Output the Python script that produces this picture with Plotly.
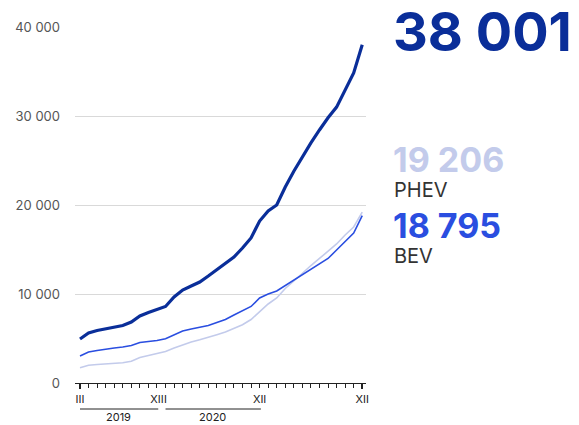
import plotly.graph_objects as go

# Cumulative registrations, monthly from March 2019 to December 2021
months = ["III", "IV", "V", "VI", "VII", "VIII", "IX", "X", "XI", "XII",
          "I", "II", "III", "IV", "V", "VI", "VII", "VIII", "IX", "X", "XI", "XII",
          "I", "II", "III", "IV", "V", "VI", "VII", "VIII", "IX", "X", "XI", "XII"]
total = [4950, 5620, 5900, 6070, 6240, 6460, 6850, 7530, 7920, 8260,
         8600, 9660, 10450, 10900, 11350, 12020, 12700, 13480, 14160, 15170, 16300, 18200,
         19330, 20000, 22020, 23800, 25420, 26970, 28430, 29800, 31000, 32840, 34840, 38001]
bev = [3030, 3480, 3650, 3820, 3930, 4040, 4210, 4550, 4660, 4780,
       4970, 5390, 5840, 6070, 6240, 6460, 6800, 7130, 7640, 8090, 8600, 9550,
       10000, 10340, 10960, 11570, 12190, 12750, 13370, 13990, 14940, 15840, 16850, 18795]
phev = [1720, 1990, 2080, 2130, 2190, 2270, 2440, 2870, 3090, 3280,
        3540, 3930, 4270, 4610, 4850, 5110, 5430, 5730, 6120, 6540, 7130, 7980,
        8880, 9550, 10620, 11460, 12360, 13200, 13990, 14830, 15620, 16630, 17530, 19206]

labeled_idx = [0, 9, 10, 21, 33]
years = [("2019", 0, 9), ("2020", 10, 21)]
y_ticks = [0, 10000, 20000, 30000, 40000]
y_tick_text = ["0", "10 000", "20 000", "30 000", "40 000"]

C_TOTAL = "#0a2e99"
C_BEV = "#2a4ee0"
C_PHEV = "#c3cbeb"
FONT = "Inter"

W, H = 579, 425
ML, MR, MT, MB = 75, 213, 27, 42
pw = W - ML - MR
ph = H - MT - MB


def px_x(p):
    return (p - ML) / pw


def px_y(p):
    return (H - MB - p) / ph


def spaced(v):
    return f"{v:,}".replace(",", " ")


x = list(range(len(months)))

fig = go.Figure()
fig.add_trace(go.Scatter(x=x, y=phev, mode="lines", line=dict(color=C_PHEV, width=1.6), hoverinfo="skip"))
fig.add_trace(go.Scatter(x=x, y=bev, mode="lines", line=dict(color=C_BEV, width=1.6), hoverinfo="skip"))
fig.add_trace(go.Scatter(x=x, y=total, mode="lines", line=dict(color=C_TOTAL, width=3.2), hoverinfo="skip"))
# heavier tick marks at both ends of the time axis
fig.add_trace(go.Scatter(x=[x[0], x[-1]], y=[None, None], xaxis="x2", showlegend=False, hoverinfo="skip"))

xr = [-0.585, len(months) - 1 + 0.44]
fig.update_layout(
    width=W, height=H,
    margin=dict(l=ML, r=MR, t=MT, b=MB),
    paper_bgcolor="white", plot_bgcolor="white",
    showlegend=False,
    font=dict(family=FONT, color="#333"),
    xaxis=dict(
        range=xr, showgrid=False, zeroline=False,
        showline=True, linecolor="#222", linewidth=1,
        ticks="outside", ticklen=4, tickwidth=1, tickcolor="#222",
        tickvals=x, tickangle=0,
        ticktext=[m if i in labeled_idx else "" for i, m in enumerate(months)],
        tickfont=dict(family=FONT, size=11, color="#222"),
        ticklabelstandoff=2,
    ),
    xaxis2=dict(
        range=xr, overlaying="x", anchor="y", showgrid=False, zeroline=False,
        ticks="outside", ticklen=5, tickwidth=2.2, tickcolor="#222",
        tickvals=[x[0], x[-1]], showticklabels=False,
    ),
    yaxis=dict(
        range=[0, 40000], showgrid=True, gridcolor="#d9d9d9", gridwidth=1,
        zeroline=False, showline=False,
        tickvals=y_ticks, ticktext=y_tick_text,
        tickfont=dict(family=FONT, size=13, color="#555"),
        ticklabelstandoff=14,
    ),
)

# year brackets under the month labels
for label, i0, i1 in years:
    fig.add_shape(type="line", xref="x", yref="paper", x0=i0, x1=i1 + 0.15,
                  y0=px_y(409), y1=px_y(409), line=dict(color="#222", width=1))
    fig.add_annotation(text=label, xref="x", yref="paper", x=(i0 + i1) / 2, y=px_y(417),
                       showarrow=False, yanchor="middle", xanchor="center", borderpad=0,
                       font=dict(family=FONT, size=11, color="#222"))

# end values on the right
fig.add_annotation(text=spaced(total[-1]), xref="paper", yref="paper",
                   x=px_x(391), y=px_y(31), xanchor="left", yanchor="middle", showarrow=False,
                   font=dict(family=FONT, size=54, color=C_TOTAL, weight=700))
fig.add_annotation(text=spaced(phev[-1]), xref="paper", yref="paper",
                   x=px_x(392), y=px_y(159), xanchor="left", yanchor="middle", showarrow=False,
                   borderpad=0,
                   font=dict(family=FONT, size=34, color=C_PHEV, weight=700))
fig.add_annotation(text="PHEV", xref="paper", yref="paper",
                   x=px_x(393), y=px_y(190), xanchor="left", yanchor="middle", showarrow=False,
                   borderpad=0,
                   font=dict(family=FONT, size=20, color="#333"))
fig.add_annotation(text=spaced(bev[-1]), xref="paper", yref="paper",
                   x=px_x(392), y=px_y(225), xanchor="left", yanchor="middle", showarrow=False,
                   borderpad=0,
                   font=dict(family=FONT, size=34, color=C_BEV, weight=700))
fig.add_annotation(text="BEV", xref="paper", yref="paper",
                   x=px_x(393), y=px_y(256), xanchor="left", yanchor="middle", showarrow=False,
                   borderpad=0,
                   font=dict(family=FONT, size=20, color="#333"))

fig.write_html("out.html")
